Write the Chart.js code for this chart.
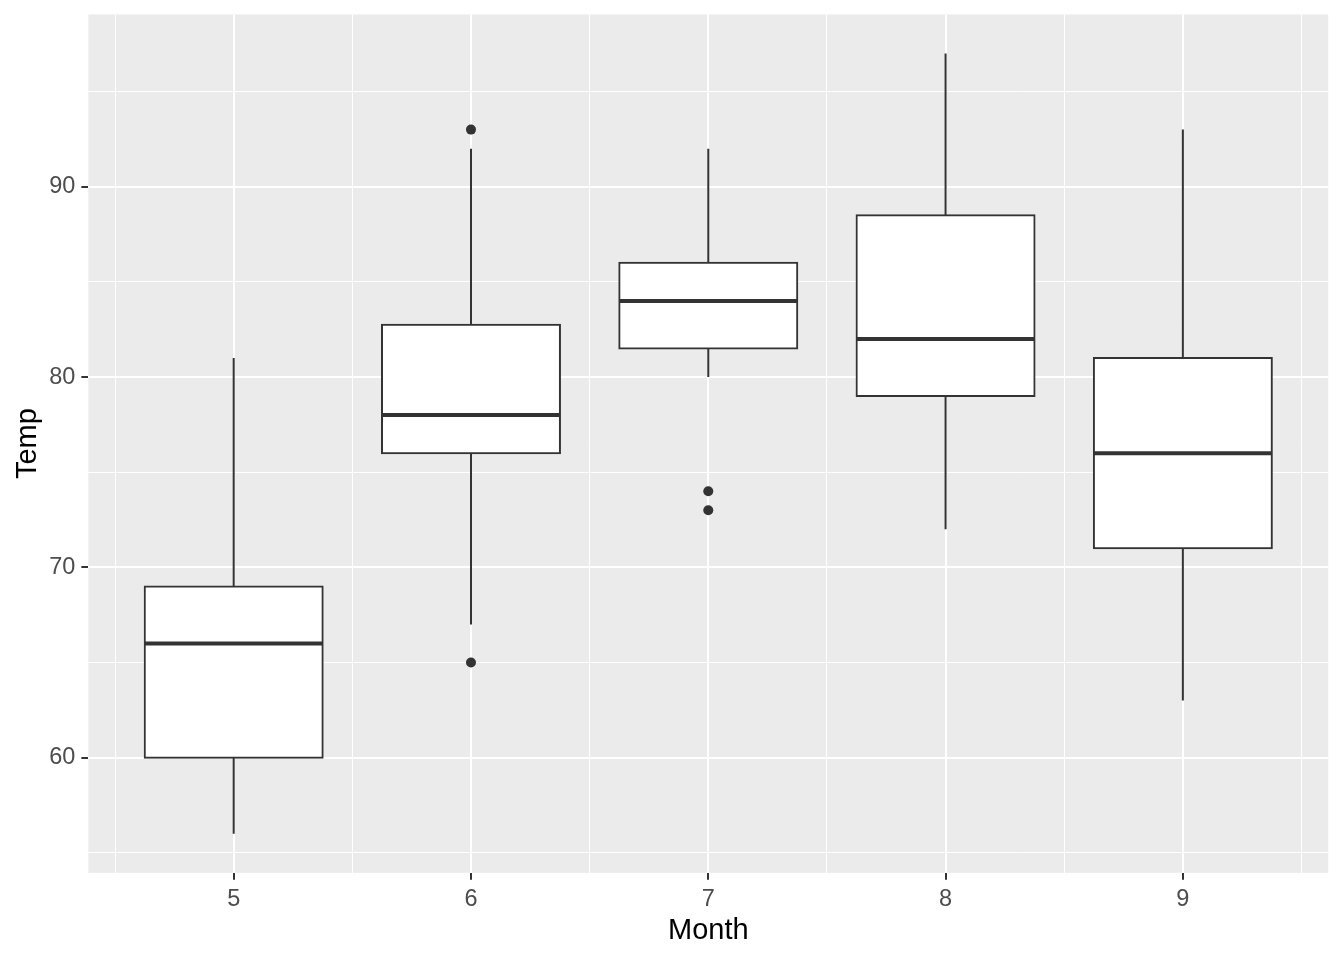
<!DOCTYPE html>
<html>
<head>
<meta charset="utf-8">
<script src="https://cdn.jsdelivr.net/npm/chart.js@4.4.1/dist/chart.umd.min.js"></script>
<style>
html,body{margin:0;padding:0;background:#fff;}
#wrap{width:1344px;height:960px;}
</style>
</head>
<body>
<div id="wrap"><canvas id="c" width="1344" height="960"></canvas></div>
<script>
// ---- data ----
const months = [5, 6, 7, 8, 9];
const lowerWhisker = [56, 67, 80, 72, 63];
const q1 = [60, 76, 81.5, 79, 71];
const median = [66, 78, 84, 82, 76];
const q3 = [69, 82.75, 86, 88.5, 81];
const upperWhisker = [81, 92, 92, 97, 93];
const outlierMonth = [6, 6, 7, 7];
const outlierTemp = [93, 65, 74, 73];
const yTicks = [55, 60, 65, 70, 75, 80, 85, 90, 95];
const xTicks = [4.5, 5, 5.5, 6, 6.5, 7, 7.5, 8, 8.5, 9, 9.5];
const boxHalfWidth = 0.375;

// ---- build library data ----
const boxData = months.map((m, i) => ({x: m, y: [q1[i], q3[i]]}));
const whiskerData = [];
months.forEach((m, i) => {
  whiskerData.push({x: m, y: lowerWhisker[i]}, {x: m, y: q1[i]}, {x: m, y: null});
  whiskerData.push({x: m, y: q3[i]}, {x: m, y: upperWhisker[i]}, {x: m, y: null});
});
const medianData = [];
months.forEach((m, i) => {
  medianData.push({x: m - boxHalfWidth, y: median[i]}, {x: m + boxHalfWidth, y: median[i]}, {x: m, y: null});
});
const outlierData = outlierMonth.map((m, i) => ({x: m, y: outlierTemp[i]}));

const panelBg = {
  id: 'panelBg',
  beforeDraw(chart) {
    const {ctx, chartArea: a} = chart;
    ctx.save();
    ctx.fillStyle = '#EBEBEB';
    ctx.fillRect(a.left, a.top, a.right - a.left, a.bottom - a.top);
    ctx.restore();
  }
};

const FONT = "'Liberation Sans', Arial, sans-serif";

new Chart(document.getElementById('c'), {
  type: 'bar',
  data: {
    datasets: [
      {type: 'bar', data: boxData, backgroundColor: '#FFFFFF', borderColor: '#333333', borderWidth: 2,
       borderSkipped: false, inflateAmount: 1, barPercentage: 1.5, categoryPercentage: 1, order: 3},
      {type: 'line', data: whiskerData, borderColor: '#333333', borderWidth: 2, pointRadius: 0,
       spanGaps: false, fill: false, order: 4},
      {type: 'line', data: medianData, borderColor: '#333333', borderWidth: 4, pointRadius: 0,
       spanGaps: false, fill: false, borderCapStyle: 'butt', order: 1},
      {type: 'scatter', data: outlierData, backgroundColor: '#333333', borderWidth: 0,
       pointRadius: 5, order: 0}
    ]
  },
  options: {
    responsive: false,
    animation: false,
    events: [],
    layout: {padding: {top: 14.45, right: 15.8, left: 0, bottom: 0}},
    plugins: {legend: {display: false}, tooltip: {enabled: false}},
    scales: {
      x: {
        type: 'linear',
        min: 4.3875,
        max: 9.6125,
        offset: false,
        afterBuildTicks(s) { s.ticks = xTicks.map(v => ({value: v})); },
        afterFit(s) { s.height = 87.15; s.paddingLeft = 0; s.paddingRight = 0; },
        border: {display: false},
        grid: {
          offset: false,
          color: '#FFFFFF',
          lineWidth: c => (c.tick && Number.isInteger(c.tick.value)) ? 2 : 1,
          tickColor: c => (c.tick && Number.isInteger(c.tick.value)) ? '#333333' : 'rgba(0,0,0,0)',
          tickWidth: 2,
          tickLength: 7
        },
        ticks: {
          autoSkip: false,
          maxRotation: 0,
          padding: 6,
          color: '#4D4D4D',
          font: {family: FONT, size: 23.5},
          callback: v => Number.isInteger(v) ? String(v) : ''
        },
        title: {display: true, text: 'Month', color: '#000000', font: {family: FONT, size: 29}, padding: {bottom: 12, top: 0}}
      },
      y: {
        type: 'linear',
        min: 53.95,
        max: 99.05,
        afterBuildTicks(s) { s.ticks = yTicks.map(v => ({value: v})); },
        afterFit(s) { s.width = 88.35; s.paddingTop = 0; s.paddingBottom = 0; },
        border: {display: false},
        grid: {
          color: '#FFFFFF',
          lineWidth: c => (c.tick && c.tick.value % 10 === 0) ? 2 : 1,
          tickColor: c => (c.tick && c.tick.value % 10 === 0) ? '#333333' : 'rgba(0,0,0,0)',
          tickWidth: 2,
          tickLength: 7
        },
        ticks: {
          autoSkip: false,
          padding: 6,
          color: '#4D4D4D',
          font: {family: FONT, size: 23.5},
          callback: v => (v % 10 === 0) ? String(v) : ''
        },
        title: {display: true, text: 'Temp', color: '#000000', font: {family: FONT, size: 29}, padding: {top: 11, bottom: 0}}
      }
    }
  },
  plugins: [panelBg]
});
</script>
</body>
</html>
